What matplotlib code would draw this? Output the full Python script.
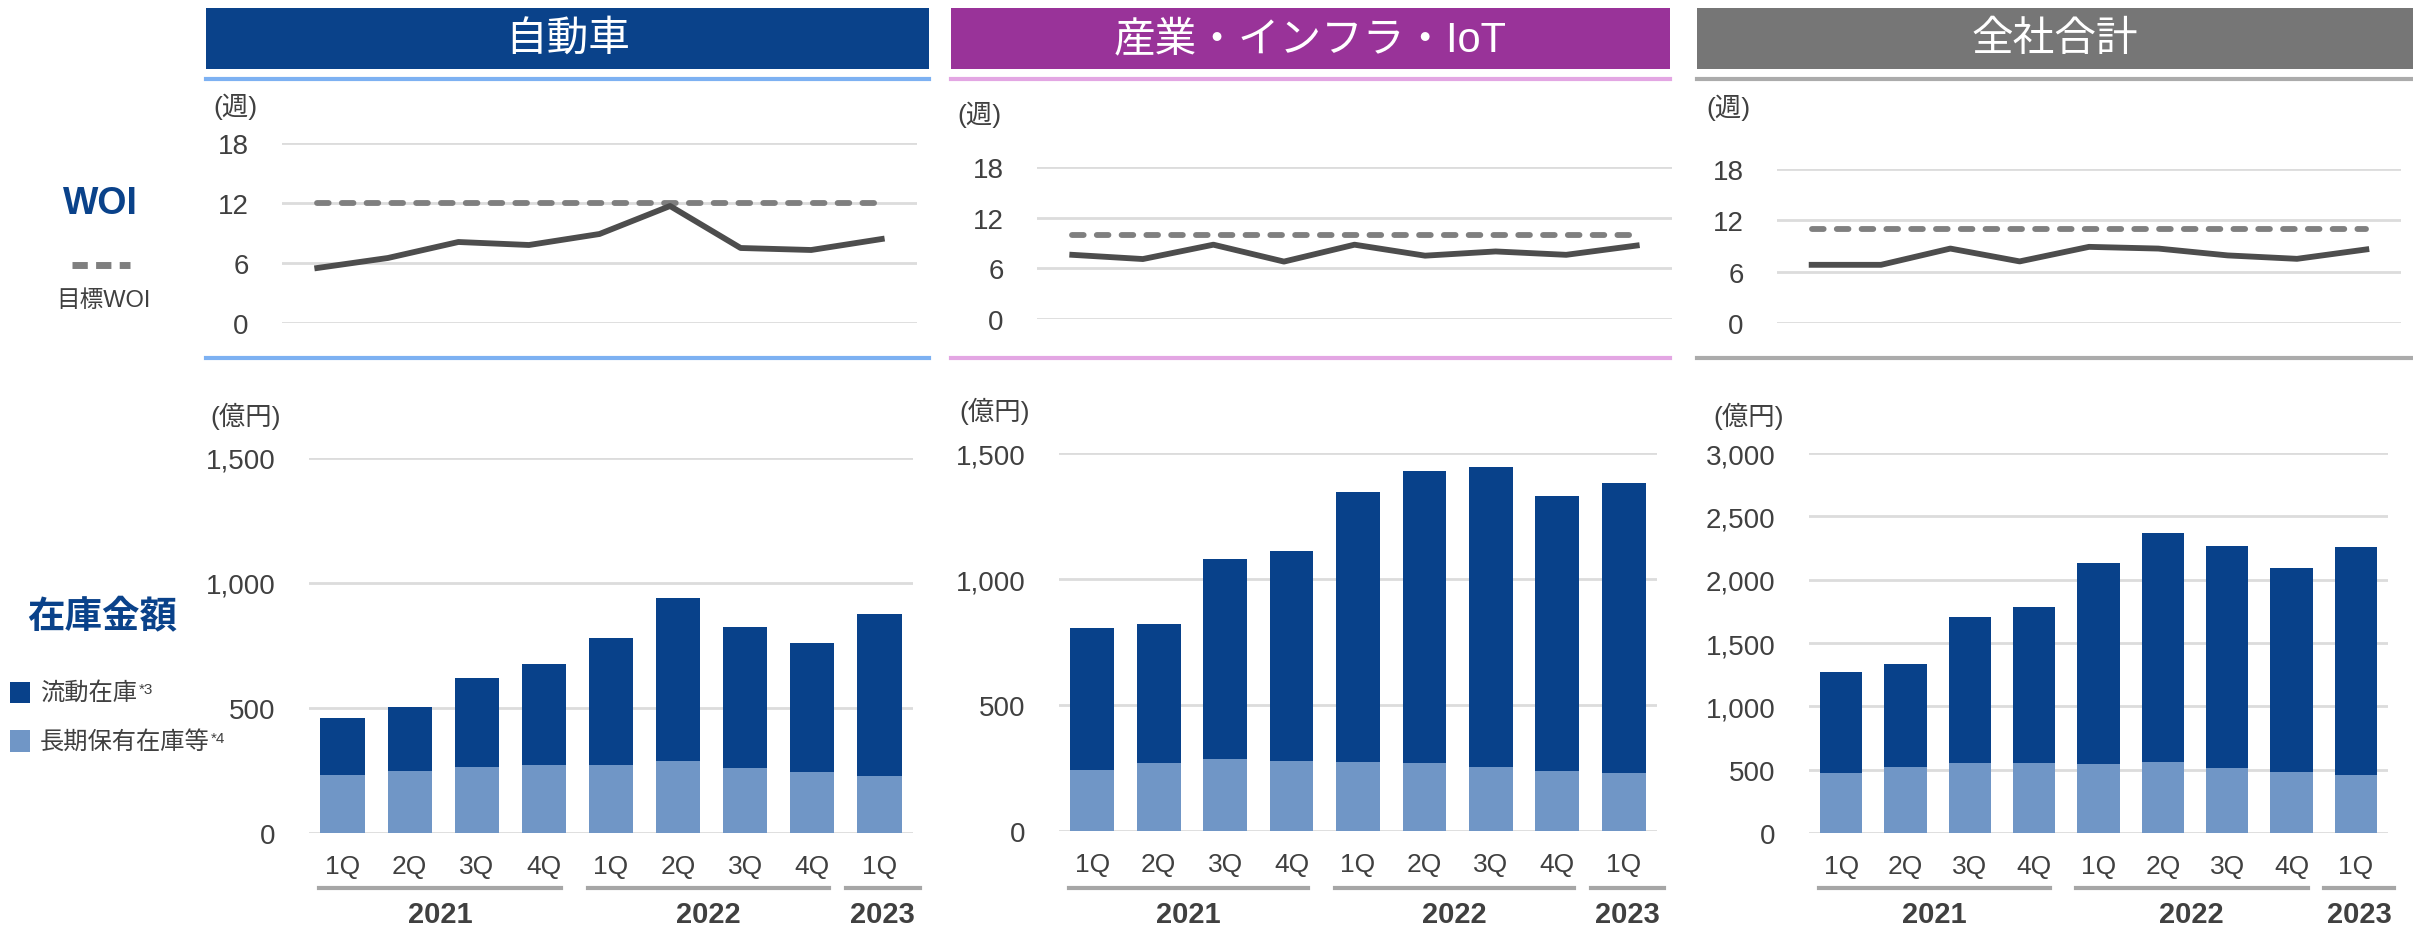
"""
Inventory / WOI dashboard: 自動車, 産業・インフラ・IoT, 全社合計
"""

import matplotlib
matplotlib.use("Agg")
import matplotlib.pyplot as plt
from matplotlib.patches import Rectangle
from matplotlib.transforms import blended_transform_factory

plt.rcParams['font.family'] = ['Liberation Sans', 'Noto Sans CJK JP']

W, H = 2413, 929

# ---- data ----
quarters = ["1Q", "2Q", "3Q", "4Q", "1Q", "2Q", "3Q", "4Q", "1Q"]
years = ["2021", "2022", "2023"]
titles = ["自動車", "産業・インフラ・IoT", "全社合計"]

auto_woi = [5.5, 6.5, 8.1, 7.8, 8.9, 11.7, 7.5, 7.3, 8.4]
infra_woi = [7.6, 7.1, 8.8, 6.8, 8.8, 7.5, 8.0, 7.6, 8.7]
total_woi = [6.8, 6.8, 8.7, 7.2, 8.9, 8.7, 7.9, 7.5, 8.6]
target_woi = [12, 10, 11]

# 流動在庫 (current) and 長期保有在庫等 (long-held), 億円
auto_current = [229, 258, 355, 404, 510, 655, 564, 517, 647]
auto_long = [232, 248, 265, 271, 271, 287, 259, 245, 230]
infra_current = [564, 552, 791, 834, 1075, 1156, 1193, 1093, 1150]
infra_long = [241, 269, 287, 278, 272, 271, 252, 238, 232]
total_current = [793, 813, 1146, 1235, 1582, 1808, 1759, 1611, 1800]
total_long = [476, 519, 556, 553, 547, 562, 510, 484, 461]

woi_series = [auto_woi, infra_woi, total_woi]
current_series = [auto_current, infra_current, total_current]
long_series = [auto_long, infra_long, total_long]
bar_ymax = [1500, 1500, 3000]

# ---- styling / layout (pixel coords in the 2413x929 canvas) ----
header_colors = ["#0A428A", "#993399", "#767676"]
rule_colors = ["#7DB1F2", "#E3A6E3", "#ABABAB"]
dark_bar = "#08418A"
light_bar = "#7096C6"
text_col = "#404040"
grid_col = "#DCDCDC"

headers = [(206, 929), (951, 1670), (1697, 2413)]
woi_boxes = [(282, 917, 144, 324), (1037, 1672, 168, 320), (1777, 2401, 170, 324)]
bar_boxes = [(309, 913, 459, 834), (1059, 1657, 454, 832), (1809, 2388, 454, 834)]
unit_week_xy = [(213, 107), (957, 115), (1706, 108)]
unit_yen_xy = [(210, 416), (959, 411), (1713, 416)]
year_spans = [(-0.35, 3.25), (3.65, 7.25), (7.5, 8.6)]


def rect(x0, x1, ytop, ybot):
    return [x0 / W, 1 - ybot / H, (x1 - x0) / W, (ybot - ytop) / H]


def style_axes(ax):
    for s in ax.spines.values():
        s.set_visible(False)
    ax.set_axisbelow(True)
    ax.yaxis.grid(True, color=grid_col, linewidth=2)
    ax.tick_params(axis='both', length=0, labelsize=20, labelcolor=text_col, pad=24)


fig = plt.figure(figsize=(W / 100, H / 100), dpi=100)
fig.patch.set_facecolor("white")

for i in range(3):
    hx0, hx1 = headers[i]
    # header band
    fig.patches.append(Rectangle((hx0 / W, 1 - 70 / H), (hx1 - hx0) / W, 61 / H,
                                 transform=fig.transFigure, facecolor=header_colors[i],
                                 edgecolor='none'))
    fig.text((hx0 + hx1) / 2 / W, 1 - 40 / H, titles[i], color="white", fontsize=30,
             ha='center', va='center')
    for yy in (80, 359):
        fig.lines.append(plt.Line2D([hx0 / W, hx1 / W], [1 - yy / H, 1 - yy / H],
                                    transform=fig.transFigure, color=rule_colors[i],
                                    linewidth=3))

    # WOI line chart
    ax = fig.add_axes(rect(*woi_boxes[i]))
    style_axes(ax)
    x = range(len(quarters))
    ax.plot(x, [target_woi[i]] * len(quarters), color="#7F7F7F", linewidth=4.2,
            dashes=(2.0, 2.25), dash_capstyle='round', clip_on=False)
    ax.plot(x, woi_series[i], color="#4D4D4D", linewidth=4.2, clip_on=False)
    ax.set_xlim(-0.5, len(quarters) - 0.5)
    ax.set_ylim(0, 18)
    ax.set_yticks([0, 6, 12, 18])
    ax.set_xticks([])
    fig.text(unit_week_xy[i][0] / W, 1 - unit_week_xy[i][1] / H, "(週)", fontsize=19,
             color=text_col, ha='left', va='center')

    # stacked bars
    ax = fig.add_axes(rect(*bar_boxes[i]))
    style_axes(ax)
    ax.bar(x, long_series[i], width=0.66, color=light_bar, edgecolor='none')
    ax.bar(x, current_series[i], bottom=long_series[i], width=0.66, color=dark_bar,
           edgecolor='none')
    ax.set_xlim(-0.5, len(quarters) - 0.5)
    ax.set_ylim(0, bar_ymax[i])
    ax.set_yticks(range(0, bar_ymax[i] + 1, 500))
    ax.yaxis.set_major_formatter(matplotlib.ticker.FuncFormatter(lambda v, p: f"{int(v):,}"))
    ax.set_xticks([])
    for k, q in enumerate(quarters):
        ax.annotate(q, xy=(k, 0), xycoords=('data', 'axes fraction'), xytext=(0, -24),
                    textcoords='offset points', ha='center', va='center', fontsize=19,
                    color=text_col)
    tr = blended_transform_factory(ax.transData, fig.transFigure)
    for (s0, s1), yr in zip(year_spans, years):
        ax.plot([s0, s1], [1 - 889 / H, 1 - 889 / H], transform=tr, color="#A6A6A6",
                linewidth=3, clip_on=False)
        ax.text((s0 + s1) / 2, 1 - 915 / H, yr, transform=tr, ha='center', va='center',
                fontsize=21, fontweight='bold', color=text_col)
    fig.text(unit_yen_xy[i][0] / W, 1 - unit_yen_xy[i][1] / H, "(億円)", fontsize=19,
             color=text_col, ha='left', va='center')

# ---- left-side labels ----
fig.text(100 / W, 1 - 204 / H, "WOI", fontsize=27, fontweight='bold', color="#0A428A",
         ha='center', va='center')
fig.lines.append(plt.Line2D([72 / W, 130 / W], [1 - 266 / H, 1 - 266 / H],
                            transform=fig.transFigure, color="#7F7F7F", linewidth=5,
                            dashes=(2.2, 1.2)))
fig.text(103 / W, 1 - 301 / H, "目標WOI", fontsize=17, color=text_col,
         ha='center', va='center')

fig.text(102 / W, 1 - 618 / H, "在庫金額", fontsize=27, fontweight='bold', color="#0A428A",
         ha='center', va='center')

legend_items = [("流動在庫", "*3", dark_bar, 683, 704), ("長期保有在庫等", "*4", light_bar, 731, 753)]
for label, note, col, y0, y1 in legend_items:
    fig.patches.append(Rectangle((10 / W, 1 - y1 / H), 20 / W, (y1 - y0) / H,
                                 transform=fig.transFigure, facecolor=col, edgecolor='none'))
    t = fig.text(40 / W, 1 - (y0 + y1) / 2 / H, label, fontsize=17.5, color=text_col,
                 ha='left', va='center')
    fig.add_artist(matplotlib.text.Annotation(
        note, xy=(1, 0.95), xycoords=t, xytext=(1, 0), textcoords='offset points',
        ha='left', va='top', fontsize=11, color=text_col))

fig.savefig("out.png", dpi=100)
